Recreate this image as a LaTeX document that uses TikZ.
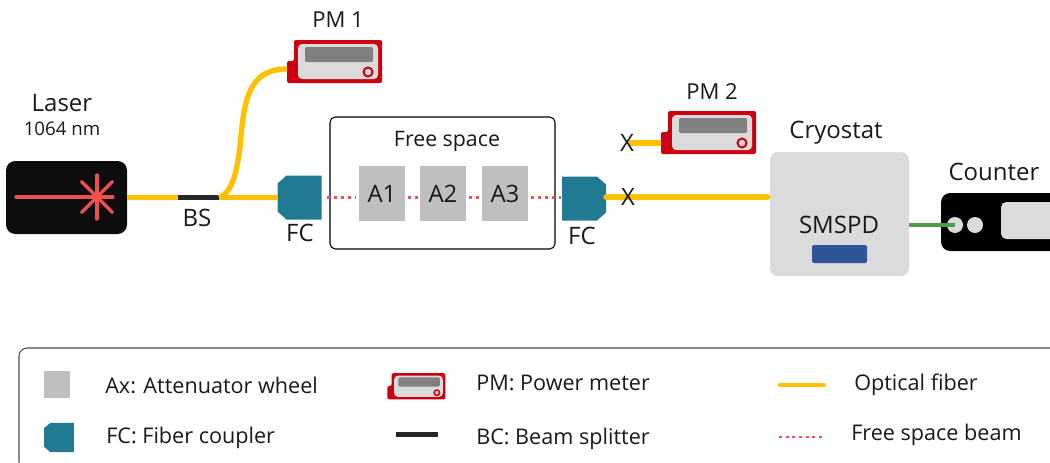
\documentclass[tikz,border=0pt]{standalone}
\usepackage{fontspec}
\setmainfont{Open Sans}
\usetikzlibrary{arrows.meta, calc, positioning}
\definecolor{fibercol}{HTML}{FFC000}
\definecolor{beamcol}{HTML}{F0504F}
\definecolor{couplercol}{HTML}{1F7A92}
\definecolor{wheelcol}{HTML}{BFBFBF}
\definecolor{pmred}{HTML}{CC0011}
\definecolor{panelcol}{HTML}{DBDBDB}
\definecolor{chipcol}{HTML}{2F5597}
\definecolor{wirecol}{HTML}{4F9A50}
\tikzset{
  lbl/.style = {inner sep=0pt, text=black!90, font=\fontsize{18}{20}\selectfont},
  lblpm/.style = {lbl, font=\fontsize{16.5}{18}\selectfont},
  lbltwo/.style = {lbl, anchor=west, font=\fontsize{16.2}{18}\selectfont},
  fiber/.style = {draw=fibercol, line width=4pt},
  beam/.style = {draw=beamcol, line width=2.4pt, dash pattern=on 2.4pt off 2.85pt},
  splitter/.style = {fill=black!85, minimum width=30.75pt, minimum height=3.75pt, inner sep=0pt},
  wheel/.style = {fill=wheelcol, minimum width=34.5pt, minimum height=41.25pt, inner sep=0pt},
  pmknob/.style = {draw=pmred, fill=panelcol, line width=1.5pt},
  pics/powermeter/.style = {code = {
    \fill [pmred, rounded corners=1.5pt] (-51,22) -- (-51,0) -- (-44,0) -- (-44,-21) -- (44,-21) -- (44,22) -- cycle;
    \fill [panelcol, rounded corners=3pt] (-40,-17) rectangle (40,18);
    \fill [black!50, rounded corners=1pt] (-33,-14) rectangle (35,1);
    \draw [pmknob] (30,11) circle [radius=4.5];
    \coordinate (-port) at (-51,8);
  }},
  pics/coupler/.style = {code = {
    \fill [couplercol] (-13,-22) -- (22,-22) -- (22,22) -- (-13,22) -- (-22,14) -- (-22,-14) -- cycle;
    \coordinate (-west) at (-22,0);
    \coordinate (-east) at (22,0);
  }}
}
\begin{document}
\begin{tikzpicture}[x=0.75pt, y=-0.75pt]
\useasboundingbox (0,0) rectangle (1050,462);
\clip (0,0) rectangle (1050,462);
\node (laser) at (66.5,197.5) [fill=black!95, rounded corners=7pt, minimum width=90.75pt, minimum height=54.75pt, inner sep=0pt] {};
\coordinate (beamstart) at (16,197);
\coordinate (beamstar) at (97,197);
\draw [beamcol, line width=2.4pt, line cap=round] (beamstart) -- ($(beamstar)+(16,0)$);
\foreach \ang in {45,90,135,225,270,315} {
  \draw [beamcol, line width=2.4pt, line cap=round] (beamstar) -- ++(\ang:22);
}
\node (laserlbl) at (62,103) [lbl] {Laser};
\node (wavelbl) at (62,129) [lbl, font=\fontsize{14}{16}\selectfont] {1064 nm};
\node (bs) at (198.5,197.5) [splitter] {};
\node (bslbl) at (197,218) [lbl] {BS};
\pic (fcin) at (299.5,197.5) {coupler};
\node (fcinlbl) at (300,233) [lbl] {FC};
\pic (pmone) at (338,61) {powermeter};
\node (pmonelbl) at (338,20) [lblpm] {PM 1};
\draw [fiber] (laser.east) -- (bs.west);
\draw [fiber] (bs.east) -- (fcin-west);
\draw [fiber] (bs.east) .. controls (233,192) and (237,170) .. (240,147) .. controls (244,100) and (248,69) .. (pmone-port);
\node (freebox) at (442.5,183) [draw=black, line width=0.8pt, rounded corners=4pt, minimum width=168.75pt, minimum height=99pt, inner sep=0pt] {};
\node (freelbl) at (447,141) [lbl, font=\fontsize{16}{18}\selectfont] {Free space};
\node (aone) at (382,193.5) [wheel, lbl] {A1};
\node (atwo) at (443,193.5) [wheel, lbl] {A2};
\node (athree) at (505,193.5) [wheel, lbl] {A3};
\pic (fcout) at (584,198.5) [xscale=-1] {coupler};
\node (fcoutlbl) at (582,236) [lbl] {FC};
\draw [beam] ($(fcin-east)+(5,0)$) -- ($(aone.west)+(-3,4)$);
\draw [beam] ($(aone.east)+(3,4)$) -- ($(atwo.west)+(-2,4)$);
\draw [beam] ($(atwo.east)+(3,4)$) -- ($(athree.west)+(-2,4)$);
\draw [beam] ($(athree.east)+(3,4)$) -- ($(fcout-east)+(-1,-1)$);
\node (cryostat) at (839.5,214) [fill=panelcol, rounded corners=6pt, minimum width=104.25pt, minimum height=93pt, inner sep=0pt] {};
\node (cryolbl) at (836,133) [lbl] {Cryostat};
\node (smspdlbl) at (839,225) [lbl] {SMSPD};
\node (smspd) at (839.5,254) [fill=chipcol, rounded corners=1.5pt, minimum width=41.25pt, minimum height=13.5pt, inner sep=0pt] {};
\draw [fiber, line cap=round] ($(fcout-west)+(0,-1.5)$) -- ($(cryostat.west)+(-2,-17)$);
\node (xout) at (628,197) [lbl] {X};
\pic (pmtwo) at (712,132) {powermeter};
\node (pmtwolbl) at (712,92) [lblpm] {PM 2};
\coordinate (xfree) at (629,143);
\draw [fiber] (xfree) -- (xfree -| pmtwo-port);
\node (xpm) at (627,143) [lbl] {X};
\node (counter) at (1006,222) [fill=black, rounded corners=7pt, minimum width=97.5pt, minimum height=43.5pt, inner sep=0pt] {};
\node (counterlbl) at (994,172) [lbl] {Counter};
\node (portone) at (955,225) [circle, fill=panelcol, minimum size=12pt, inner sep=0pt] {};
\node (porttwo) at (975,225) [circle, fill=panelcol, minimum size=12pt, inner sep=0pt] {};
\node (display) at (1040,220.5) [fill=panelcol, rounded corners=4pt, minimum width=58.5pt, minimum height=27.75pt, inner sep=0pt] {};
\draw [draw=wirecol, line width=2.3pt] (cryostat.east |- portone) -- (portone.center);
\node (legend) at (539.5,409) [draw=black!70, line width=0.8pt, rounded corners=6pt, minimum width=780.75pt, minimum height=91.5pt, inner sep=0pt] {};
\node (legwheel) at (57,384.5) [fill=wheelcol, minimum width=19.5pt, minimum height=20.25pt, inner sep=0pt] {};
\node (legwheeltxt) at (105,385) [lbltwo] {Ax: Attenuator wheel};
\pic (legcoupler) at (59,437.5) [xscale=0.68, yscale=0.66] {coupler};
\node (legcouplertxt) at (106,438) [lbltwo] {FC: Fiber coupler};
\pic (legpm) at (418.5,386) [scale=0.61, pmknob/.append style={line width=1.1pt}] {powermeter};
\node (legpmtxt) at (476,383) [lbltwo] {PM: Power meter};
\node (legbs) at (417,434) [splitter, minimum width=31.5pt] {};
\node (legbstxt) at (476,439) [lbltwo] {BC: Beam splitter};
\coordinate (legfiberl) at (780,385);
\coordinate (legfiberr) at (824,385);
\draw [fiber, line cap=round, line width=3pt] (legfiberl) -- (legfiberr);
\node (legfibertxt) at (854,384.5) [lbltwo] {Optical fiber};
\coordinate (legbeaml) at (779,437);
\coordinate (legbeamr) at (822,437);
\draw [beam, line width=2.2pt, dash pattern=on 2.2pt off 2.8pt] (legbeaml) -- (legbeamr);
\node (legbeamtxt) at (851,435) [lbltwo] {Free space beam};
\end{tikzpicture}
\end{document}
